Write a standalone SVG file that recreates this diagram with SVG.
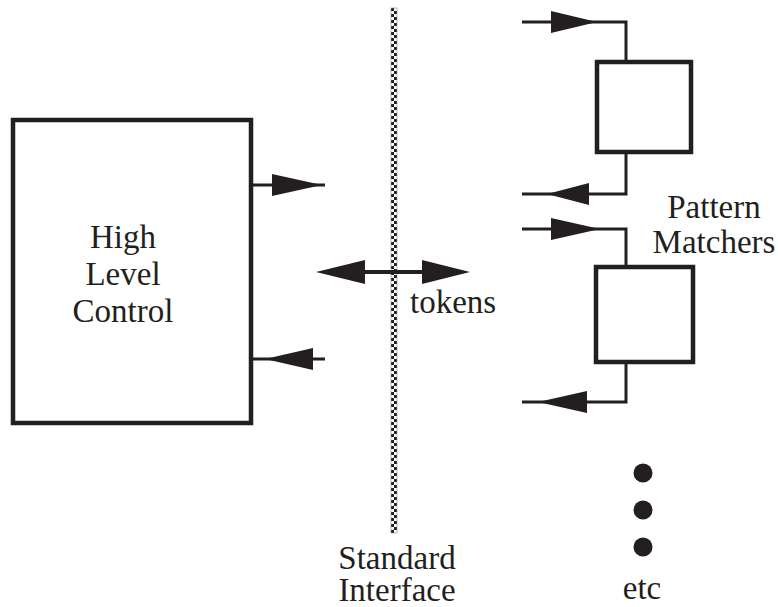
<svg xmlns="http://www.w3.org/2000/svg" width="778" height="607" viewBox="0 0 778 607">
<style>
.box{fill:#fff;stroke:#231f20;stroke-width:4.5}
.ln{fill:none;stroke:#231f20;stroke-width:3}
.hd{fill:#231f20;stroke:none}
text{font-family:'Liberation Serif','Times New Roman','DejaVu Serif',serif;font-size:33px;fill:#231f20}
.mid{text-anchor:middle}
</style>
<defs>
<pattern id="chk" patternUnits="userSpaceOnUse" x="391" y="8" width="6" height="6">
<rect width="6" height="6" fill="#fff"/>
<rect x="0" y="0" width="3" height="3" fill="#231f20"/>
<rect x="3" y="3" width="3" height="3" fill="#231f20"/>
</pattern>
</defs>
<rect x="0" y="0" width="778" height="607" fill="#fff"/>

<g id="interface">
<rect x="391" y="8" width="6" height="525" fill="url(#chk)" stroke="#888" stroke-width="0.6"/>
<text class="mid" x="397" y="569" font-family="Liberation Serif, serif">Standard</text>
<text class="mid" x="397" y="601" font-family="Liberation Serif, serif">Interface</text>
</g>

<g id="high-level-control">
<rect class="box" x="13" y="120" width="238" height="303"/>
<text class="mid" x="123" y="248" font-family="Liberation Serif, serif">High</text>
<text class="mid" x="123" y="285" font-family="Liberation Serif, serif">Level</text>
<text class="mid" x="123" y="322" font-family="Liberation Serif, serif">Control</text>
</g>

<g id="matcher1">
<rect class="box" x="597" y="62" width="94" height="90"/>
</g>

<g id="matcher2">
<rect class="box" x="596" y="267" width="97" height="95"/>
</g>

<g id="labels">
<text class="mid" x="714" y="218" font-family="Liberation Serif, serif">Pattern</text>
<text class="mid" x="714" y="253" font-family="Liberation Serif, serif">Matchers</text>
<text x="410" y="313" font-family="Liberation Serif, serif">tokens</text>
<text class="mid" x="642" y="599" font-family="Liberation Serif, serif">etc</text>
</g>

<g id="etc-dots">
<circle class="hd" cx="643" cy="473" r="9.5"/>
<circle class="hd" cx="643" cy="510" r="9.5"/>
<circle class="hd" cx="643" cy="547" r="9.5"/>
</g>

<g id="connectors">
<path class="ln" d="M251 185 H325"/>
<polygon class="hd" points="272,174 322,185 272,196"/>
<path class="ln" d="M251 359 H325"/>
<polygon class="hd" points="313,348 265,359 313,370"/>
<path class="ln" d="M330 272 H455" style="stroke-width:4"/>
<polygon class="hd" points="365,260 316,272 365,284"/>
<polygon class="hd" points="422,260 470,272 422,284"/>
<path class="ln" d="M522 22 H626 V62"/>
<polygon class="hd" points="551,11 597,22 551,33"/>
<path class="ln" d="M626 152 V194 H522"/>
<polygon class="hd" points="589,183 547,194 589,205"/>
<path class="ln" d="M522 229 H626 V267"/>
<polygon class="hd" points="551,218 600,229 551,240"/>
<path class="ln" d="M626 362 V402 H522"/>
<polygon class="hd" points="587,391 538,402 587,413"/>
</g>
</svg>
